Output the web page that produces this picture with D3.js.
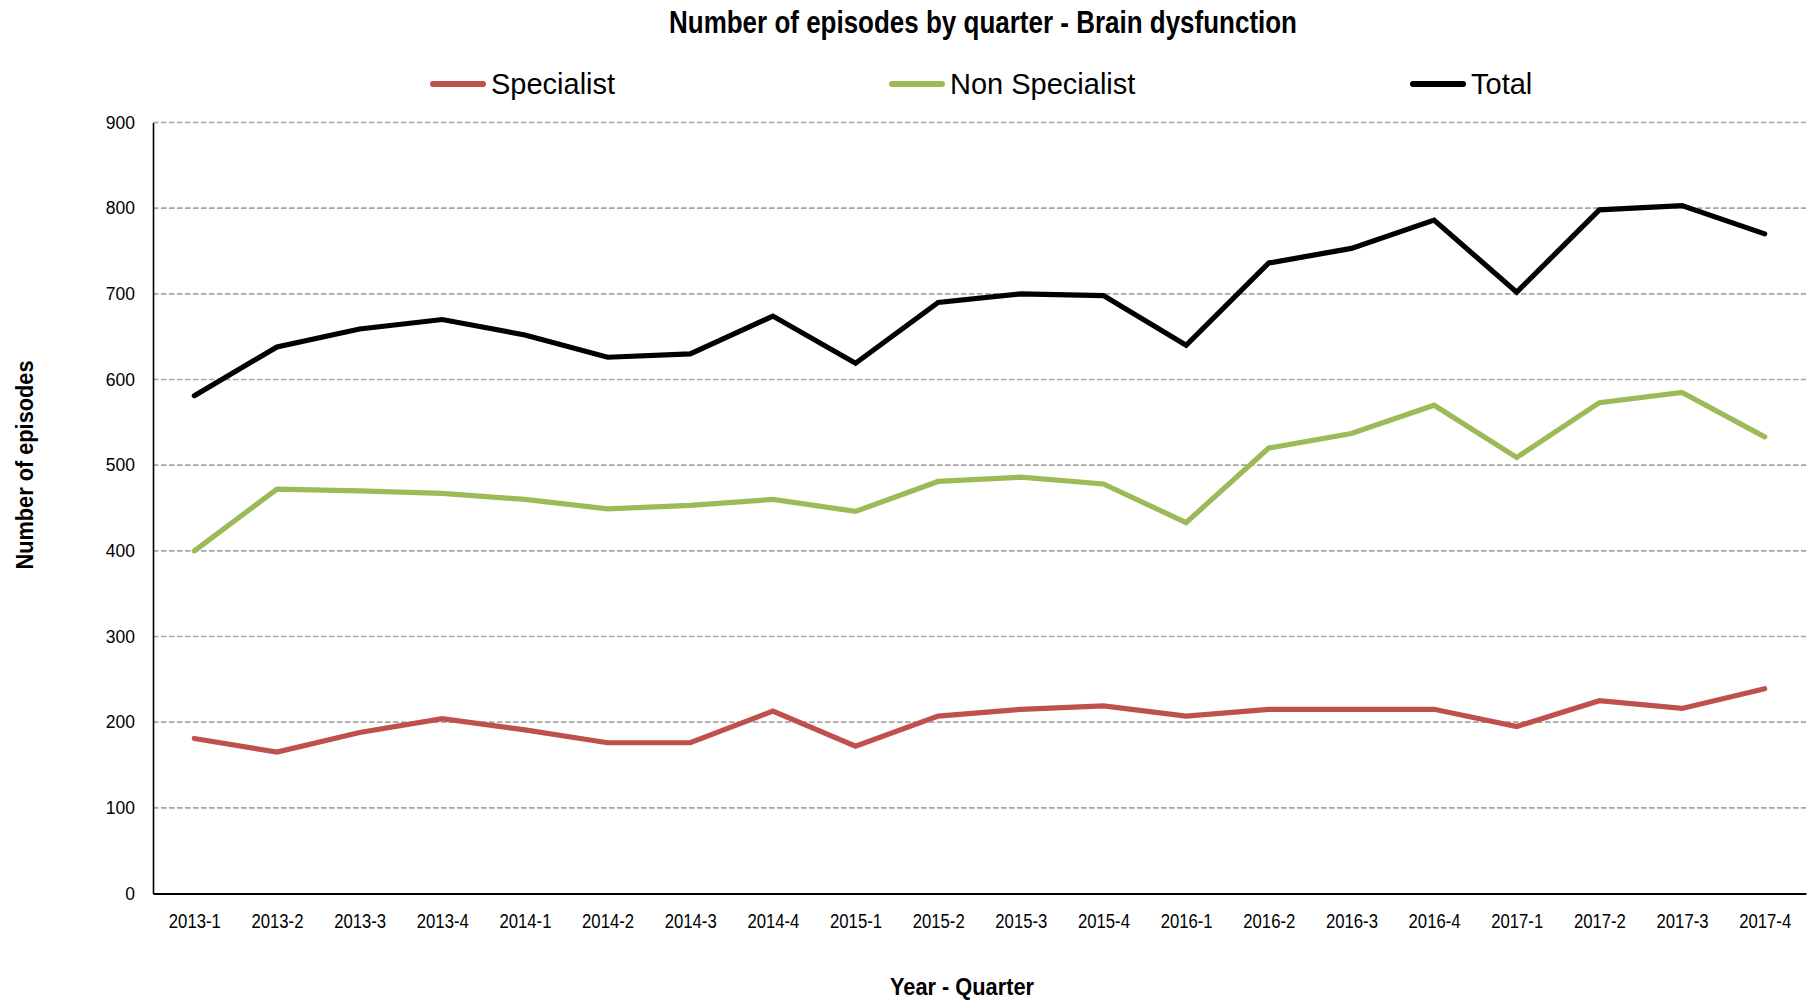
<!DOCTYPE html>
<html>
<head>
<meta charset="utf-8">
<script src="https://cdn.jsdelivr.net/npm/d3@7/dist/d3.min.js"></script>
<style>
    body { margin: 0; background: #fff; }
    svg { display: block; }
</style>
</head>
<body>
<div id="chart"></div>
<script>
const quarters = ["2013-1", "2013-2", "2013-3", "2013-4", "2014-1", "2014-2", "2014-3", "2014-4",
    "2015-1", "2015-2", "2015-3", "2015-4", "2016-1", "2016-2", "2016-3", "2016-4",
    "2017-1", "2017-2", "2017-3", "2017-4"];
const specialist = [181, 165, 188, 204, 191, 176, 176, 213, 172, 207, 215, 219, 207, 215, 215, 215, 195, 225, 216, 239];
const nonSpecialist = [400, 472, 470, 467, 460, 449, 453, 460, 446, 481, 486, 478, 433, 520, 537, 570, 509, 573, 585, 533];
const total = [581, 638, 659, 670, 652, 626, 630, 674, 619, 690, 700, 698, 640, 736, 753, 786, 702, 798, 803, 770];
const yTicks = [0, 100, 200, 300, 400, 500, 600, 700, 800, 900];
const seriesNames = ["Specialist", "Non Specialist", "Total"];
const seriesColors = ["#c0504d", "#9bbb59", "#000000"];

const WIDTH = 1812;
const HEIGHT = 1001;
const padding = { top: 122.5, right: 6, bottom: 107.5, left: 153 };
const SANS = "'Liberation Sans', Arial, sans-serif";

class LineChart
{
    constructor(selector)
    {
        this.svg = d3.select(selector).append("svg")
            .attr("width", WIDTH)
            .attr("height", HEIGHT);
        this.innerWidth = WIDTH - padding.left - padding.right;
        this.innerHeight = HEIGHT - padding.top - padding.bottom;
        this.contentGroup = this.svg.append("g")
            .attr("transform", `translate(${padding.left}, ${padding.top})`);

        this.x = d3.scalePoint().domain(quarters).range([0, this.innerWidth]).padding(0.5);
        this.y = d3.scaleLinear().domain([0, 900]).range([this.innerHeight, 0]);
    }

    draw()
    {
        this._drawGrid();
        this._drawAxes();
        this._drawSeries();
        this._drawLegend();
        this._drawTitles();
    }

    _drawGrid()
    {
        this.contentGroup.append("g").classed("grid", true)
            .selectAll("line")
            .data(yTicks.filter(d => d > 0))
            .join("line")
            .attr("x1", 0)
            .attr("x2", this.innerWidth)
            .attr("y1", d => this.y(d))
            .attr("y2", d => this.y(d))
            .attr("stroke", "#a6a6a6")
            .attr("stroke-width", 1.6)
            .attr("stroke-dasharray", "5.5,2.5");
    }

    _drawAxes()
    {
        const yAxis = this.contentGroup.append("g")
            .call(d3.axisLeft(this.y).tickValues(yTicks).tickSize(0).tickPadding(18));
        yAxis.select(".domain").attr("stroke", "#000").attr("stroke-width", 1.6);
        yAxis.selectAll("text")
            .attr("font-family", SANS)
            .attr("font-size", 17.5)
            .attr("fill", "#000");

        // the reference uses a condensed face for the quarter labels
        const xAxis = this.contentGroup.append("g")
            .attr("transform", `translate(0, ${this.innerHeight})`)
            .call(d3.axisBottom(this.x).tickSize(0).tickPadding(20.5));
        xAxis.select(".domain").attr("stroke", "#000").attr("stroke-width", 2);
        xAxis.selectAll("text")
            .attr("font-family", SANS)
            .attr("font-size", 20)
            .attr("fill", "#000")
            .attr("textLength", 52)
            .attr("lengthAdjust", "spacingAndGlyphs");
    }

    _drawSeries()
    {
        const series = [specialist, nonSpecialist, total];
        const line = d3.line()
            .x((d, i) => this.x(quarters[i]))
            .y(d => this.y(d));

        this.contentGroup.append("g").classed("series-layer", true)
            .selectAll("path")
            .data(series)
            .join("path")
            .attr("d", line)
            .attr("fill", "none")
            .attr("stroke", (d, i) => seriesColors[i])
            .attr("stroke-width", 5.2)
            .attr("stroke-linecap", "round")
            .attr("stroke-linejoin", "miter");
    }

    _drawLegend()
    {
        // legend swatches start at these x positions
        const legendX = [431, 890, 1411];
        const items = this.svg.append("g").classed("legend", true)
            .selectAll("g")
            .data(seriesNames)
            .join("g")
            .attr("transform", (d, i) => `translate(${legendX[i]}, 84)`);

        items.append("line")
            .attr("x1", 2)
            .attr("x2", 52)
            .attr("stroke", (d, i) => seriesColors[i])
            .attr("stroke-width", 6)
            .attr("stroke-linecap", "round");

        items.append("text")
            .attr("x", 60)
            .attr("y", 10)
            .attr("font-family", SANS)
            .attr("font-size", 29)
            .attr("fill", "#000")
            .text(d => d);
    }

    _drawTitles()
    {
        const titles = this.svg.append("g")
            .attr("font-family", SANS)
            .attr("font-weight", "bold")
            .attr("text-anchor", "middle")
            .attr("fill", "#000");

        titles.append("text")
            .attr("x", 983)
            .attr("y", 33)
            .attr("font-size", 31)
            .attr("textLength", 628)
            .attr("lengthAdjust", "spacingAndGlyphs")
            .text("Number of episodes by quarter - Brain dysfunction");

        titles.append("text")
            .attr("x", 962)
            .attr("y", 995)
            .attr("font-size", 24)
            .attr("textLength", 144)
            .attr("lengthAdjust", "spacingAndGlyphs")
            .text("Year - Quarter");

        titles.append("text")
            .attr("transform", "translate(33, 465) rotate(-90)")
            .attr("font-size", 24)
            .attr("textLength", 209)
            .attr("lengthAdjust", "spacingAndGlyphs")
            .text("Number of episodes");
    }
}

new LineChart("#chart").draw();
</script>
</body>
</html>
